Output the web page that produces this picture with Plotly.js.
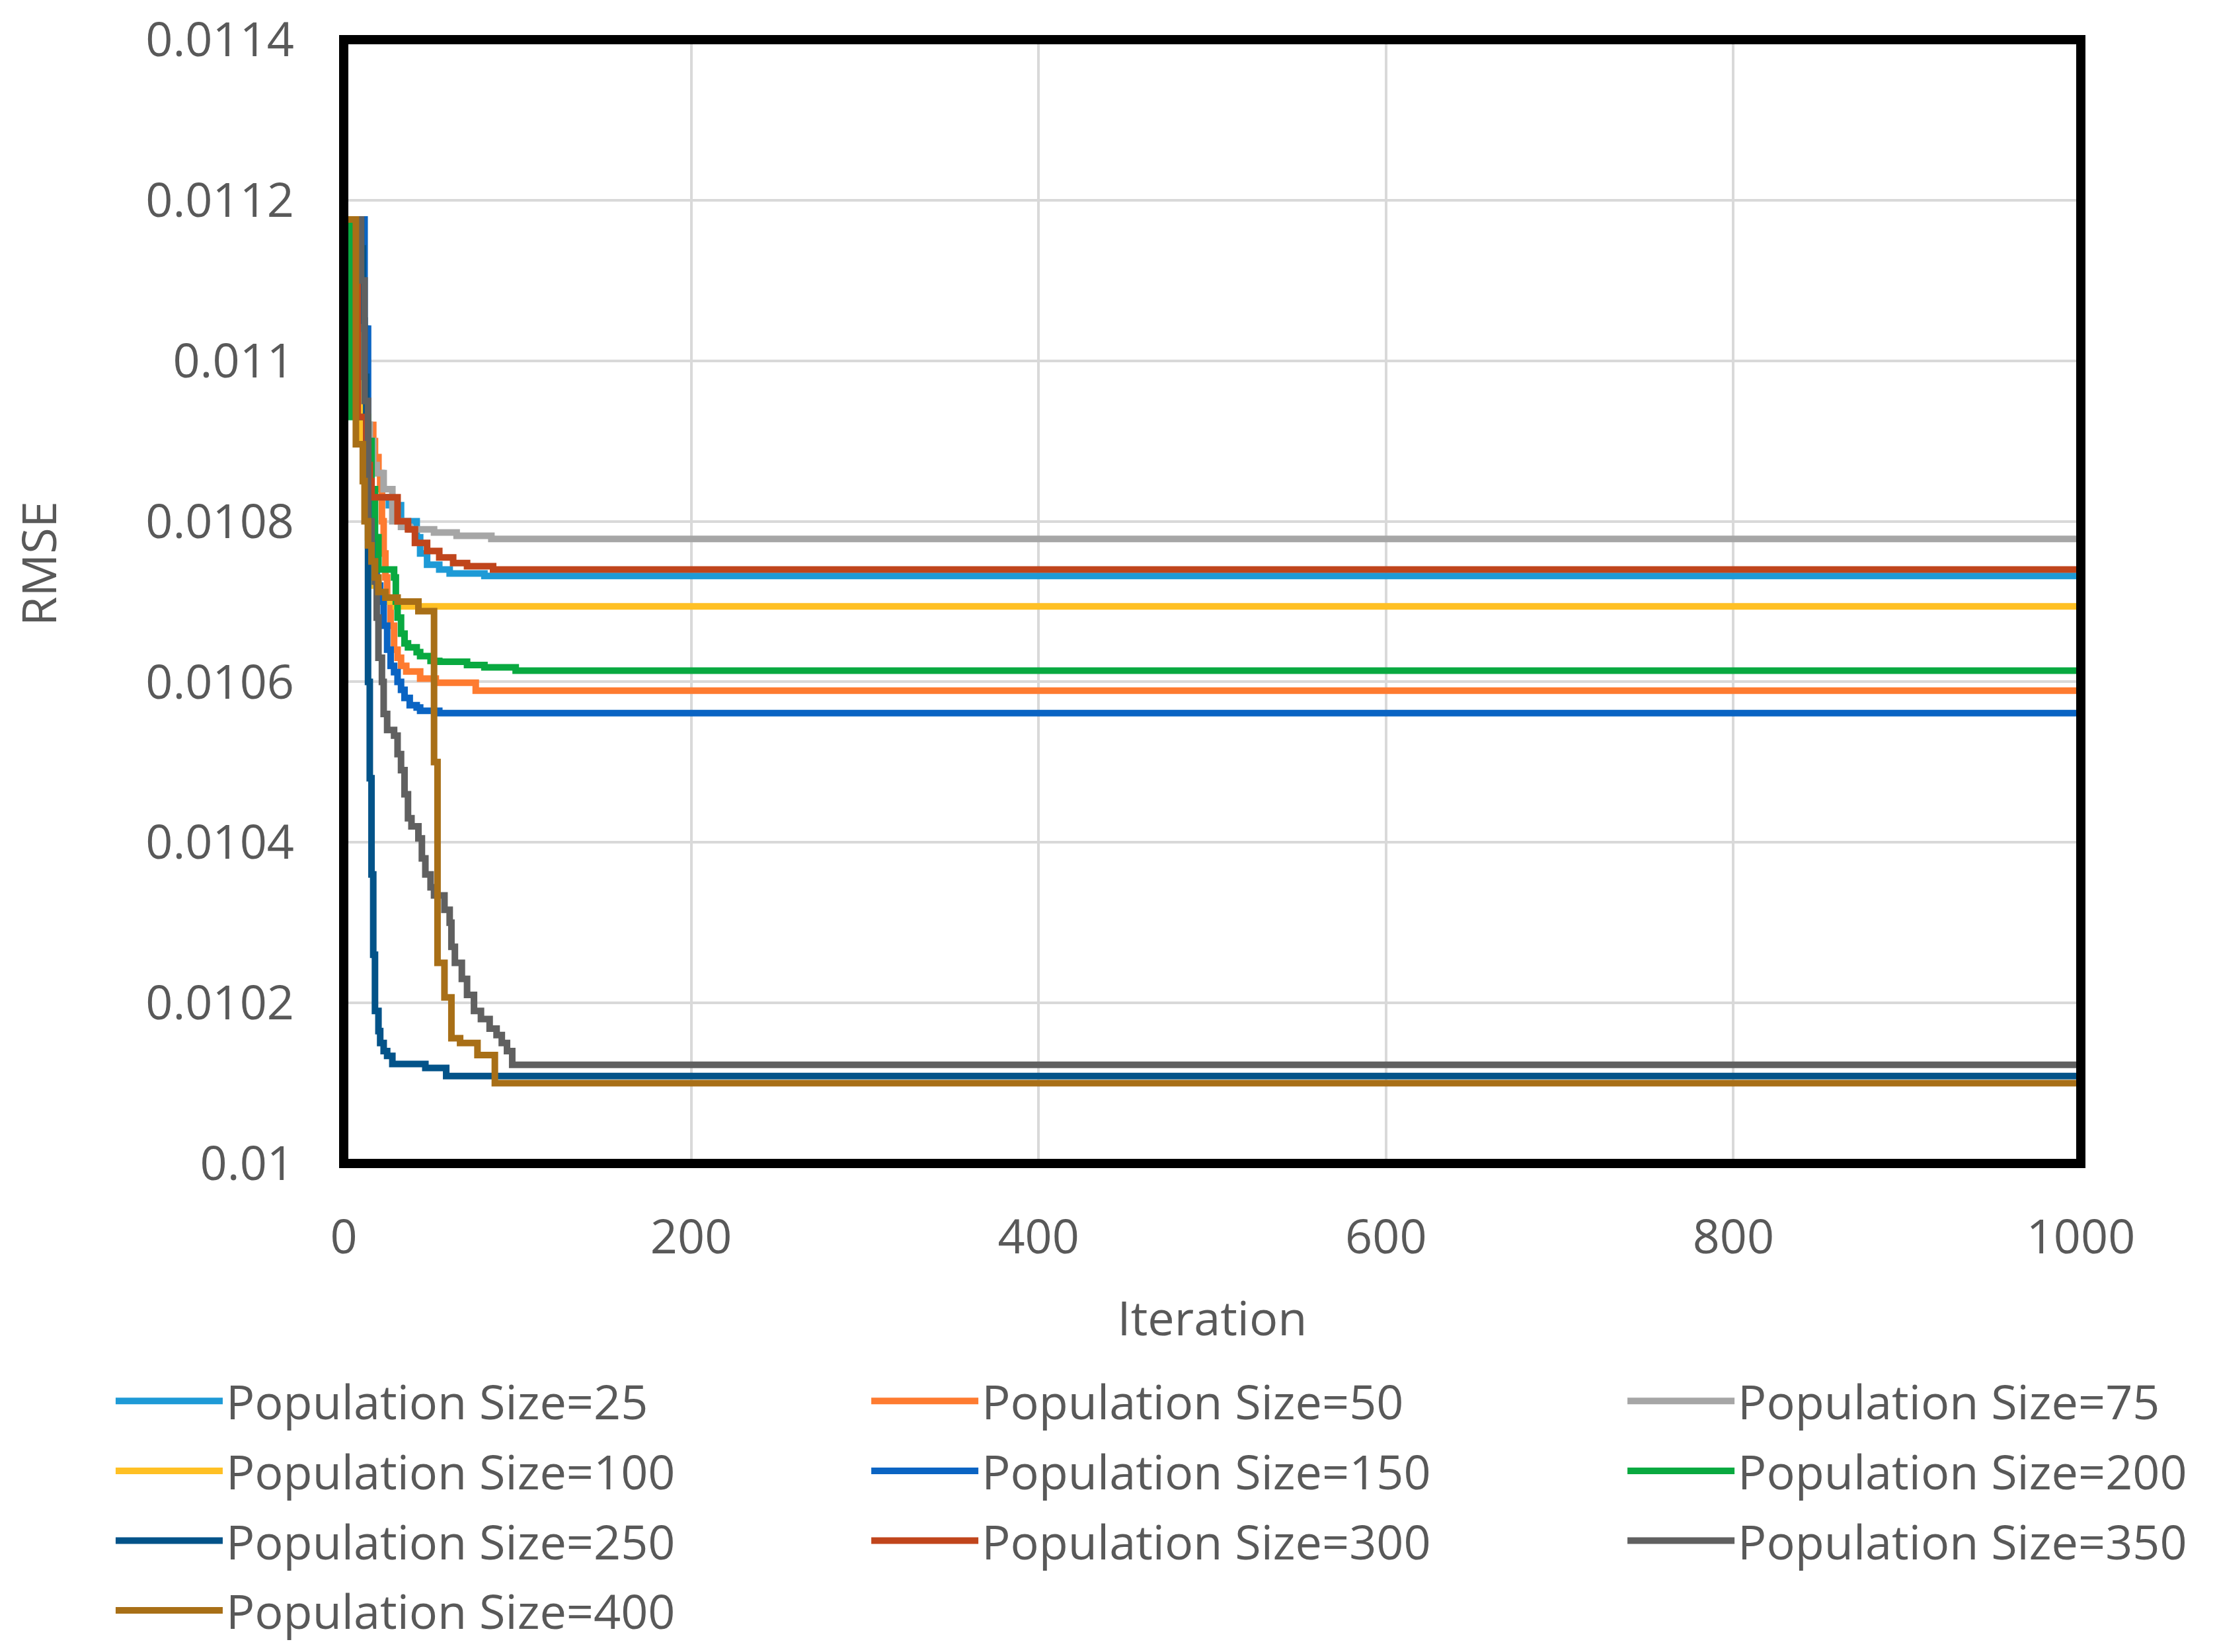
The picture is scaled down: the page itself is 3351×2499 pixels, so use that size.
<!DOCTYPE html>
<html>
<head>
<meta charset="utf-8">
<script src="https://cdn.plot.ly/plotly-3.0.1.min.js"></script>
<style>
  html, body { margin: 0; padding: 0; background: #fff; }
  #chart { width: 3351px; height: 2499px; }
</style>
</head>
<body>
<div id="chart"></div>
<script>
// best-so-far RMSE per population size (step points)
const iter25 = [0, 11, 13, 15, 17, 22, 26, 33, 42, 44, 48, 55, 61, 81, 1000];
const rmse25 = [0.011176, 0.01104, 0.01092, 0.0109, 0.01086, 0.01083, 0.01082, 0.0108, 0.01078, 0.01076, 0.010746, 0.01074, 0.010735, 0.010732, 0.010732];

const iter50 = [0, 10, 17, 18, 20, 21, 22, 23, 24, 25, 27, 29, 31, 33, 36, 44, 53, 76, 1000];
const rmse50 = [0.011176, 0.01092, 0.0109, 0.01088, 0.01086, 0.01084, 0.0108, 0.01076, 0.01073, 0.0107, 0.01067, 0.01064, 0.01063, 0.01062, 0.010613, 0.010604, 0.010599, 0.010589, 0.010589];

const iter75 = [0, 11, 13, 15, 17, 19, 23, 28, 33, 38, 52, 65, 85, 1000];
const rmse75 = [0.011176, 0.01095, 0.01092, 0.0109, 0.01087, 0.01086, 0.01084, 0.0108, 0.010793, 0.01079, 0.010786, 0.010782, 0.010778, 0.010778];

const iter100 = [0, 10, 13, 14, 16, 20, 30, 1000];
const rmse100 = [0.011176, 0.0109, 0.01082, 0.01078, 0.01072, 0.0107, 0.010694, 0.010694];

const iter150 = [0, 12, 14, 16, 19, 21, 23, 25, 27, 29, 31, 33, 35, 38, 42, 44, 55, 1000];
const rmse150 = [0.011176, 0.01104, 0.0109, 0.01078, 0.01072, 0.0107, 0.01067, 0.01064, 0.01062, 0.010612, 0.0106, 0.01059, 0.01058, 0.010571, 0.010568, 0.010564, 0.010561, 0.010561];

const iter200 = [0, 4, 14, 16, 18, 20, 29, 30, 31, 33, 35, 37, 42, 44, 50, 55, 71, 81, 99, 1000];
const rmse200 = [0.011176, 0.01093, 0.0109, 0.01084, 0.01078, 0.01074, 0.01073, 0.0107, 0.01068, 0.01066, 0.010648, 0.010643, 0.010637, 0.010632, 0.010626, 0.010625, 0.010621, 0.010618, 0.010614, 0.010614];

const iter250 = [0, 10, 11, 12, 13, 14, 15, 16, 17, 18, 20, 21, 23, 25, 28, 47, 59, 1000];
const rmse250 = [0.011176, 0.01114, 0.01105, 0.01098, 0.0109, 0.0106, 0.01048, 0.01036, 0.01026, 0.01019, 0.010165, 0.01015, 0.01014, 0.010134, 0.010124, 0.010119, 0.010109, 0.010109];

const iter300 = [0, 8, 13, 14, 15, 16, 31, 37, 41, 48, 55, 63, 71, 86, 1000];
const rmse300 = [0.011176, 0.01093, 0.0109, 0.01087, 0.01085, 0.01083, 0.0108, 0.01079, 0.010773, 0.010763, 0.010755, 0.010748, 0.010744, 0.01074, 0.01074];

const iter350 = [0, 10, 12, 14, 16, 18, 19, 20, 22, 23, 25, 29, 31, 33, 35, 37, 39, 43, 45, 47, 50, 52, 58, 61, 62, 64, 68, 71, 75, 79, 84, 88, 91, 94, 97, 1000];
const rmse350 = [0.011176, 0.0111, 0.01095, 0.0108, 0.01075, 0.010725, 0.01068, 0.01063, 0.0106, 0.01056, 0.01054, 0.010533, 0.01051, 0.01049, 0.01046, 0.01043, 0.01042, 0.010405, 0.01038, 0.01036, 0.010344, 0.010334, 0.010316, 0.0103, 0.01027, 0.01025, 0.01023, 0.01021, 0.01019, 0.01018, 0.010168, 0.01016, 0.01015, 0.01014, 0.010123, 0.010123];

const iter400 = [0, 7, 11, 12, 14, 16, 18, 20, 24, 31, 43, 52, 54, 58, 62, 67, 77, 87, 1000];
const rmse400 = [0.011176, 0.010896, 0.01085, 0.0108, 0.01077, 0.01075, 0.01073, 0.010712, 0.010705, 0.0107, 0.010688, 0.0105, 0.01025, 0.010207, 0.010156, 0.01015, 0.010135, 0.0101, 0.0101];

const popSizes = [25, 50, 75, 100, 150, 200, 250, 300, 350, 400];
const iters = [iter25, iter50, iter75, iter100, iter150, iter200, iter250, iter300, iter350, iter400];
const rmses = [rmse25, rmse50, rmse75, rmse100, rmse150, rmse200, rmse250, rmse300, rmse350, rmse400];
const colors = ["#1e9ad6", "#fe7b30", "#a6a6a6", "#ffc024", "#0a64c3",
                "#09a940", "#035389", "#c0451c", "#606060", "#a86f17"];
// which of the three legend columns each series sits in
const legendCols = ["legend", "legend2", "legend3", "legend", "legend2",
                    "legend3", "legend", "legend2", "legend3", "legend"];

const xTickVals = [0, 200, 400, 600, 800, 1000];
const yTickVals = [0.01, 0.0102, 0.0104, 0.0106, 0.0108, 0.011, 0.0112, 0.0114];
const yTickText = ["0.01", "0.0102", "0.0104", "0.0106", "0.0108", "0.011", "0.0112", "0.0114"];

const FONT = "Open Sans, Noto Sans, sans-serif";
const TXT = "#595959";

const traces = popSizes.map((p, i) => ({
  x: iters[i],
  y: rmses[i],
  type: "scatter",
  mode: "lines",
  name: "Population Size=" + p,
  legendgroup: "p" + p,
  legend: legendCols[i],
  line: { color: colors[i], width: 10, shape: "hv" },
  hoverinfo: "skip",
}));

const legendBase = {
  orientation: "v",
  traceorder: "grouped",
  tracegroupgap: 9,
  itemwidth: 162,
  bgcolor: "rgba(0,0,0,0)",
  borderwidth: 0,
  font: { family: FONT, size: 72, color: TXT },
  xanchor: "left",
  yanchor: "top",
  y: -0.18,
};

const layout = {
  width: 3351,
  height: 2499,
  paper_bgcolor: "#fff",
  plot_bgcolor: "#fff",
  margin: { l: 520, r: 203, t: 60, b: 739, autoexpand: false },
  font: { family: FONT, size: 72, color: TXT },
  showlegend: true,
  xaxis: {
    range: [0, 1000],
    tickvals: xTickVals,
    ticktext: xTickVals.map(String),
    showgrid: true,
    gridcolor: "#d9d9d9",
    gridwidth: 4,
    zeroline: false,
    showline: false,
    ticks: "",
    ticklabelstandoff: 63,
    tickfont: { family: FONT, size: 72, color: TXT },
    title: { text: "Iteration", font: { family: FONT, size: 72, color: TXT }, standoff: 53 },
  },
  yaxis: {
    range: [0.01, 0.0114],
    tickvals: yTickVals,
    ticktext: yTickText,
    showgrid: true,
    gridcolor: "#d9d9d9",
    gridwidth: 4,
    zeroline: false,
    showline: false,
    ticks: "",
    ticklabelstandoff: 74,
    tickfont: { family: FONT, size: 72, color: TXT },
  },
  legend: Object.assign({}, legendBase, { x: -0.1332 }),
  legend2: Object.assign({}, legendBase, { x: 0.3018 }),
  legend3: Object.assign({}, legendBase, { x: 0.7371 }),
  annotations: [
    {
      text: "RMSE",
      xref: "paper", yref: "paper",
      x: -0.1762, y: 0.5341,
      xanchor: "center", yanchor: "middle",
      textangle: -90,
      showarrow: false,
      font: { family: FONT, size: 72, color: TXT },
    },
  ],
  shapes: [
    {
      type: "rect", xref: "paper", yref: "paper",
      x0: 0, x1: 1, y0: 0, y1: 1,
      line: { color: "#000", width: 14 },
      layer: "above",
    },
  ],
};

Plotly.newPlot("chart", traces, layout, { displayModeBar: false, staticPlot: true });
</script>
</body>
</html>
